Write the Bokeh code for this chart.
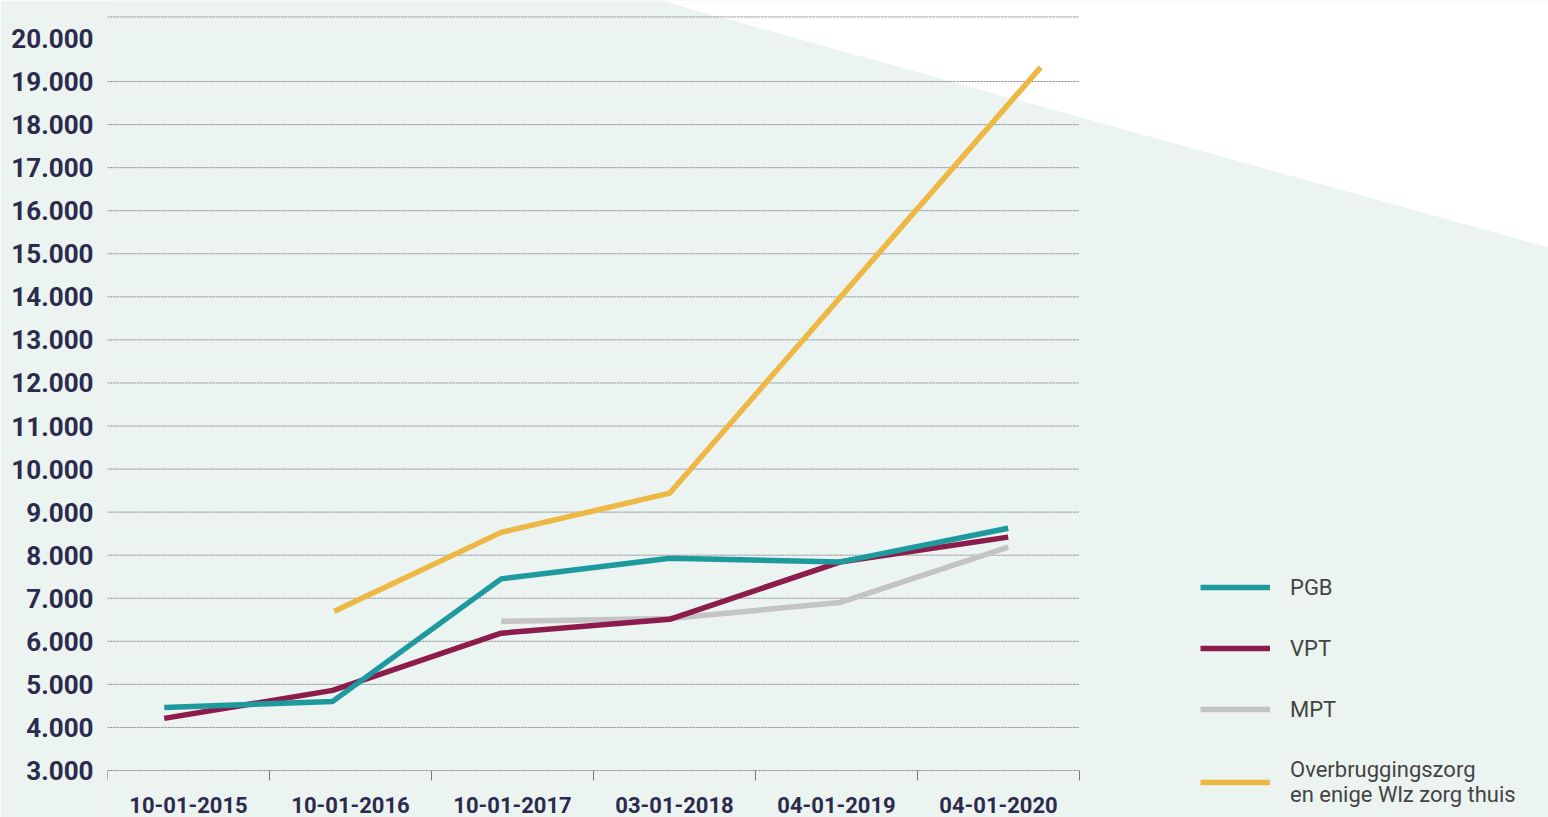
import math
from bokeh.plotting import figure
from bokeh.models import FixedTicker, Legend, LegendItem, PolyAnnotation, Range1d
from bokeh.core.properties import value
from bokeh.embed import file_html
from bokeh.resources import INLINE

# ---- data ----
periods = ["10-01-2015", "10-01-2016", "10-01-2017", "03-01-2018", "04-01-2019", "04-01-2020"]
y_ticks = list(range(3000, 20001, 1000))

pgb_x = [0.35, 1.39, 2.43, 3.47, 4.52, 5.56]
pgb = [4465, 4605, 7450, 7930, 7840, 8625]

vpt_x = [0.35, 1.39, 2.43, 3.47, 4.52, 5.56]
vpt = [4210, 4860, 6190, 6510, 7840, 8420]

mpt_x = [2.43, 3.47, 4.52, 5.56]
mpt = [6465, 6530, 6900, 8190]

obz_x = [1.40, 2.43, 3.47, 5.76]
obz = [6700, 8530, 9440, 19330]

# ---- styles ----
BG = "#ebf4f0"
NAVY = "#2c2a4d"
C_PGB = "#1e9a9e"
C_VPT = "#8c1c4c"
C_MPT = "#c4c4c4"
C_OBZ = "#edb843"
GRID_TOP = 20500
W, H = 1548, 817
LEFT = 107
CELL_PX = 162
PX_PER_1000 = 43.06
BASE_PX = 770  # pixel row of the lowest tick

y_top = y_ticks[0] + BASE_PX / PX_PER_1000 * 1000
y_bot = y_ticks[0] - (H - BASE_PX) / PX_PER_1000 * 1000

p = figure(width=W, height=H,
           x_range=Range1d(0, (W - LEFT) / CELL_PX), y_range=Range1d(y_bot, y_top),
           output_backend="svg", toolbar_location=None,
           min_border_left=LEFT, min_border_right=0, min_border_top=0, min_border_bottom=0)
p.background_fill_color = BG
p.border_fill_color = BG
p.outline_line_color = None
p.xgrid.visible = False
p.ygrid.visible = False
p.xaxis.visible = False

# white diagonal area in the top right
tri = PolyAnnotation(xs=[660, W, W], ys=[0, 0, 247],
                     xs_units="canvas", ys_units="canvas",
                     fill_color="white", fill_alpha=1.0, line_alpha=0, level="image")
p.add_layout(tri)

# dotted grid lines spanning the category cells
grid_y = y_ticks[:-1] + [GRID_TOP]
n = len(grid_y)
p.segment(x0=[0] * n, x1=[len(periods)] * n, y0=grid_y, y1=grid_y,
          line_color="#858590", line_width=1, line_dash="2 1")

# category boundary ticks hanging below the base line
bounds = list(range(len(periods) + 1))
p.ray(x=bounds, y=[y_ticks[0]] * len(bounds), length=10, length_units="screen",
      angle=-math.pi / 2, line_color="#777777", line_width=1)

# category labels centred in their cells
p.text(x=[i + 0.5 for i in range(len(periods))], y=[y_ticks[0]] * len(periods),
       text=periods, y_offset=34, text_align="center", text_baseline="middle",
       text_font=value("Roboto"), text_font_style="bold", text_font_size="22px",
       text_color=NAVY)

r_mpt = p.line(mpt_x, mpt, line_color=C_MPT, line_width=5.5)
r_obz = p.line(obz_x, obz, line_color=C_OBZ, line_width=5.5)
r_vpt = p.line(vpt_x, vpt, line_color=C_VPT, line_width=5.5)
r_pgb = p.line(pgb_x, pgb, line_color=C_PGB, line_width=5.5)

# y axis
ya = p.yaxis[0]
ya.ticker = FixedTicker(ticks=y_ticks)
ya.major_label_overrides = {v: f"{v:,}".replace(",", ".") for v in y_ticks}
ya.axis_line_color = None
ya.major_tick_line_color = None
ya.minor_tick_line_color = None
ya.major_tick_in = 0
ya.major_tick_out = 0
ya.major_label_standoff = 14
ya.major_label_text_font = "Roboto"
ya.major_label_text_font_style = "bold"
ya.major_label_text_font_size = "26px"
ya.major_label_text_color = NAVY

legend = Legend(items=[
    LegendItem(label="PGB", renderers=[r_pgb]),
    LegendItem(label="VPT", renderers=[r_vpt]),
    LegendItem(label="MPT", renderers=[r_mpt]),
    LegendItem(label="Overbruggingszorg\nen enige Wlz zorg thuis", renderers=[r_obz]),
], location=(1093, 10))
legend.border_line_color = None
legend.background_fill_alpha = 0
legend.padding = 0
legend.margin = 0
legend.glyph_width = 70
legend.glyph_height = 26
legend.label_height = 26
legend.spacing = 35
legend.label_standoff = 20
legend.label_text_font = "Roboto"
legend.label_text_font_size = "22px"
legend.label_text_color = "#444444"
p.add_layout(legend)

open("out.html", "w").write(file_html(p, INLINE))
